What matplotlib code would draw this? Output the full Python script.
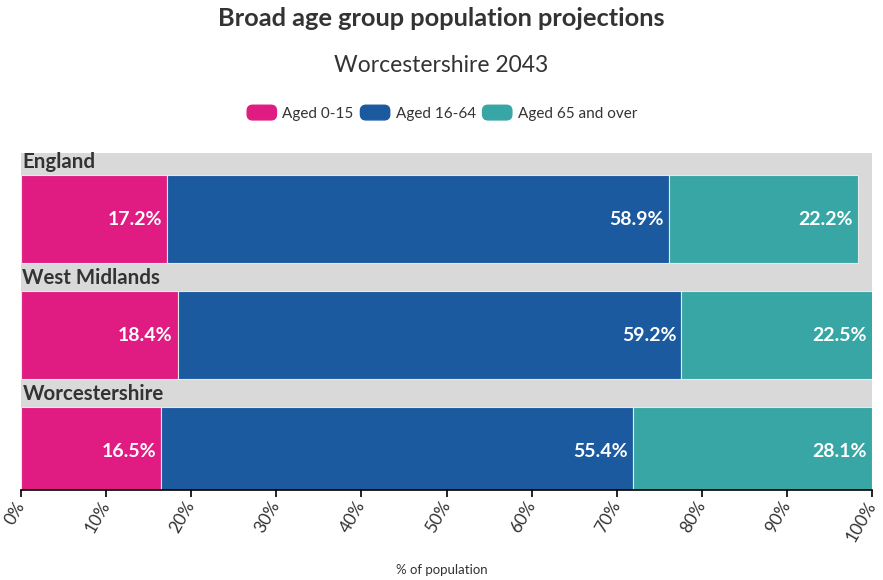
import matplotlib as mpl
mpl.use('Agg')

import matplotlib.pyplot as plt
import matplotlib.patches as mpatches
from matplotlib.legend_handler import HandlerPatch
from matplotlib.ticker import FuncFormatter
import numpy as np

plt.rcParams['font.family'] = ['Lato', 'DejaVu Sans']

# Data
areas = ["England", "West Midlands", "Worcestershire"]
series = ["Aged 0-15", "Aged 16-64", "Aged 65 and over"]
aged_0_15 = [17.2, 18.4, 16.5]
aged_16_64 = [58.9, 59.2, 55.4]
aged_65_over = [22.2, 22.5, 28.1]
ticks = [0, 10, 20, 30, 40, 50, 60, 70, 80, 90, 100]

colors = ["#E01B82", "#1C5AA0", "#38A6A5"]
band_color = "#D9D9D9"
text_color = "#333333"

W, H = 883, 580
fig = plt.figure(figsize=(W / 100, H / 100), dpi=100)
ax = fig.add_axes([21 / W, 1 - 490 / H, (872 - 21) / W, (490 - 153) / H])
ax.set_facecolor(band_color)

bar_h = 88 / 116
y = np.arange(len(areas))
left = np.zeros(len(areas))
for vals, col, name in zip([aged_0_15, aged_16_64, aged_65_over], colors, series):
    vals = np.array(vals)
    ax.barh(y, vals, left=left, height=bar_h, color=col,
            edgecolor="#E8E8E8", linewidth=0.8, label=name)
    for yi, l, v in zip(y, left, vals):
        end = min(l + v, 100)
        ax.annotate(f"{v:.1f}%", xy=(end, yi), xytext=(-3.5, 0),
                    textcoords="offset points", ha="right", va="center",
                    color="white", fontsize=14, fontweight="bold",
                    annotation_clip=False)
    left += vals

# group labels above each bar
for yi, name in zip(y, areas):
    ax.annotate(name, xy=(0, yi - bar_h / 2), xytext=(1, 2.5),
                textcoords="offset points", ha="left", va="bottom",
                color=text_color, fontsize=14.8, fontweight="bold")

ax.set_xlim(0, 100)
ax.set_ylim(2.336, -0.569)
ax.set_yticks([])
for s in ["top", "left", "right"]:
    ax.spines[s].set_visible(False)
ax.spines["bottom"].set_color("black")
ax.spines["bottom"].set_linewidth(1.2)

ax.set_xticks(ticks)
ax.xaxis.set_major_formatter(FuncFormatter(lambda v, p: f"{v:.0f}%"))
ax.tick_params(axis="x", length=5, width=1.2, color="black", labelsize=12.5,
               labelcolor=text_color, pad=4)
for lab in ax.get_xticklabels():
    lab.set_rotation(60)
    lab.set_ha("right")
    lab.set_va("center")
    lab.set_rotation_mode("anchor")

fig.text(0.5, 1 - 570 / H, "% of population", ha="center", va="center",
         fontsize=9.5, color=text_color)

fig.text(0.5, 1 - 18 / H, "Broad age group population projections",
         ha="center", va="center", fontsize=18.3, fontweight="bold", color=text_color)
fig.text(0.5, 1 - 65 / H, "Worcestershire 2043", ha="center", va="center",
         fontsize=16.5, color=text_color)


def rounded_box(legend, orig_handle, xdescent, ydescent, width, height, fontsize):
    return mpatches.FancyBboxPatch((-xdescent + 1, -ydescent), width - 2, height,
                                   boxstyle="round,pad=0,rounding_size=4")


handles = [mpatches.Patch(color=c, label=n) for c, n in zip(colors, series)]
fig.legend(handles=handles, loc="center", bbox_to_anchor=(0.5, 1 - 113 / H),
           ncol=3, frameon=False, fontsize=11, handlelength=2.1,
           handleheight=1.1, handletextpad=0.3, columnspacing=0.35,
           labelcolor=text_color,
           handler_map={mpatches.Patch: HandlerPatch(patch_func=rounded_box)})

fig.savefig("out.png", dpi=100)
